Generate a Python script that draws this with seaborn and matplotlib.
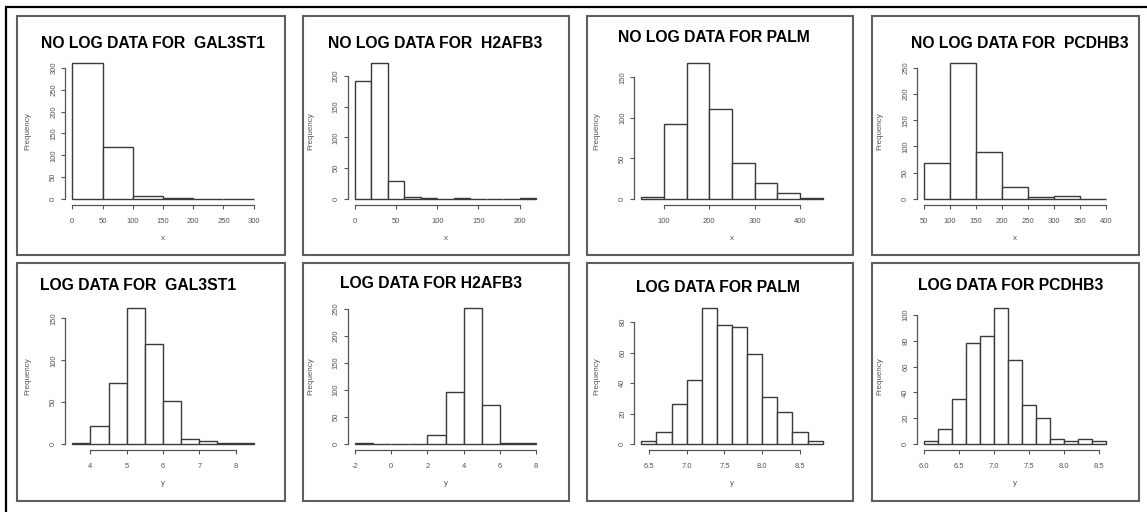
import numpy as np
import pandas as pd
import seaborn as sns
import matplotlib.pyplot as plt
from matplotlib import font_manager
from matplotlib.patches import Rectangle

# ---------------------------------------------------------------------------
# Histogram data: bin edges and counts per gene, raw and log-transformed
# ---------------------------------------------------------------------------
raw_titles = ["NO LOG DATA FOR  GAL3ST1", "NO LOG DATA FOR  H2AFB3",
              "NO LOG DATA FOR PALM", "NO LOG DATA FOR  PCDHB3"]
log_titles = ["LOG DATA FOR  GAL3ST1", "LOG DATA FOR H2AFB3",
              "LOG DATA FOR PALM", "LOG DATA FOR PCDHB3"]

gal3st1_raw_breaks = [0, 50, 100, 150, 200, 250, 300]
gal3st1_raw_counts = [310, 119, 8, 2, 1, 1]
h2afb3_raw_breaks = [0, 20, 40, 60, 80, 100, 120, 140, 160, 180, 200, 220]
h2afb3_raw_counts = [191, 220, 30, 3, 1, 0, 1, 0, 0, 0, 1]
palm_raw_breaks = [50, 100, 150, 200, 250, 300, 350, 400, 450]
palm_raw_counts = [2, 92, 167, 111, 44, 20, 7, 1]
pcdhb3_raw_breaks = [50, 100, 150, 200, 250, 300, 350, 400]
pcdhb3_raw_counts = [68, 258, 90, 23, 3, 6, 1]

gal3st1_log_breaks = [3.5, 4.0, 4.5, 5.0, 5.5, 6.0, 6.5, 7.0, 7.5, 8.0, 8.5]
gal3st1_log_counts = [1, 22, 73, 162, 119, 52, 6, 4, 1, 1]
h2afb3_log_breaks = [-2, -1, 0, 1, 2, 3, 4, 5, 6, 7, 8]
h2afb3_log_counts = [2, 0, 0, 1, 17, 97, 251, 72, 2, 2]
palm_log_breaks = [6.4, 6.6, 6.8, 7.0, 7.2, 7.4, 7.6, 7.8, 8.0, 8.2, 8.4, 8.6, 8.8]
palm_log_counts = [2, 8, 26, 42, 89, 78, 77, 59, 31, 21, 8, 2]
pcdhb3_log_breaks = [6.0, 6.2, 6.4, 6.6, 6.8, 7.0, 7.2, 7.4, 7.6, 7.8, 8.0, 8.2, 8.4, 8.6]
pcdhb3_log_counts = [2, 12, 35, 78, 84, 105, 65, 30, 20, 4, 2, 4, 2]

# Axis ticks (values and labels)
gal3st1_raw_xticks = [0, 50, 100, 150, 200, 250, 300]
gal3st1_raw_yticks = [0, 50, 100, 150, 200, 250, 300]
h2afb3_raw_xticks = [0, 50, 100, 150, 200]
h2afb3_raw_yticks = [0, 50, 100, 150, 200]
palm_raw_xticks = [100, 200, 300, 400]
palm_raw_yticks = [0, 50, 100, 150]
pcdhb3_raw_xticks = [50, 100, 150, 200, 250, 300, 350, 400]
pcdhb3_raw_yticks = [0, 50, 100, 150, 200, 250]

gal3st1_log_xticks = [4, 5, 6, 7, 8]
gal3st1_log_yticks = [0, 50, 100, 150]
h2afb3_log_xticks = [-2, 0, 2, 4, 6, 8]
h2afb3_log_yticks = [0, 50, 100, 150, 200, 250]
palm_log_xticks = [6.5, 7.0, 7.5, 8.0, 8.5]
palm_log_xlabels = ["6.5", "7.0", "7.5", "8.0", "8.5"]
palm_log_yticks = [0, 20, 40, 60, 80]
pcdhb3_log_xticks = [6.0, 6.5, 7.0, 7.5, 8.0, 8.5]
pcdhb3_log_xlabels = ["6.0", "6.5", "7.0", "7.5", "8.0", "8.5"]
pcdhb3_log_yticks = [0, 20, 40, 60, 80, 100]

panels = [
    # row 0: raw values, x axis named "x"
    dict(title=raw_titles[0], breaks=gal3st1_raw_breaks, counts=gal3st1_raw_counts,
         xticks=gal3st1_raw_xticks, xlabels=None, yticks=gal3st1_raw_yticks, var="x"),
    dict(title=raw_titles[1], breaks=h2afb3_raw_breaks, counts=h2afb3_raw_counts,
         xticks=h2afb3_raw_xticks, xlabels=None, yticks=h2afb3_raw_yticks, var="x"),
    dict(title=raw_titles[2], breaks=palm_raw_breaks, counts=palm_raw_counts,
         xticks=palm_raw_xticks, xlabels=None, yticks=palm_raw_yticks, var="x"),
    dict(title=raw_titles[3], breaks=pcdhb3_raw_breaks, counts=pcdhb3_raw_counts,
         xticks=pcdhb3_raw_xticks, xlabels=None, yticks=pcdhb3_raw_yticks, var="x"),
    # row 1: log values, x axis named "y"
    dict(title=log_titles[0], breaks=gal3st1_log_breaks, counts=gal3st1_log_counts,
         xticks=gal3st1_log_xticks, xlabels=None, yticks=gal3st1_log_yticks, var="y"),
    dict(title=log_titles[1], breaks=h2afb3_log_breaks, counts=h2afb3_log_counts,
         xticks=h2afb3_log_xticks, xlabels=None, yticks=h2afb3_log_yticks, var="y"),
    dict(title=log_titles[2], breaks=palm_log_breaks, counts=palm_log_counts,
         xticks=palm_log_xticks, xlabels=palm_log_xlabels, yticks=palm_log_yticks, var="y"),
    dict(title=log_titles[3], breaks=pcdhb3_log_breaks, counts=pcdhb3_log_counts,
         xticks=pcdhb3_log_xticks, xlabels=pcdhb3_log_xlabels, yticks=pcdhb3_log_yticks, var="y"),
]

# ---------------------------------------------------------------------------
# Styling
# ---------------------------------------------------------------------------
sns.set_theme(style="white")
plt.rcParams["font.family"] = ["Liberation Sans", "DejaVu Sans"]

installed = {f.name for f in font_manager.fontManager.ttflist}
if "Liberation Sans Narrow" in installed:
    title_family, title_size = ["Liberation Sans Narrow", "Liberation Sans"], 13.7
else:
    title_family, title_size = ["Liberation Sans", "DejaVu Sans"], 11.3

W, H = 1147, 512
fig = plt.figure(figsize=(W / 100, H / 100), dpi=100)
fig.patch.set_facecolor("white")

# layout in pixels
panel_left = [17, 303, 587, 872]
panel_right = [285, 569, 853, 1139]
panel_top = [16, 263]
panel_bottom = [255, 501]
axes_left = [65, 347.5, 634, 917]
axes_width = 196
axes_top = [58, 303]
axes_height = 146.5
title_x = [[153, 435.5, 713.5, 1020], [138, 431.5, 718, 1010.5]]
title_y = [[43, 43, 38, 43], [285, 284, 288, 286]]

ink = "#3a3a3a"
tick_ink = "#555555"

# outer frame (top and left edges fall inside the canvas)
fig.patches.append(Rectangle((6 / W, -0.1), 1.2, 1 - 7 / H + 0.1,
                             transform=fig.transFigure, fill=False,
                             edgecolor="black", linewidth=1.6))

for i, p in enumerate(panels):
    r, c = divmod(i, 4)

    # panel frame
    x0, x1 = panel_left[c], panel_right[c]
    y0, y1 = panel_top[r], panel_bottom[r]
    fig.patches.append(Rectangle((x0 / W, 1 - y1 / H), (x1 - x0) / W, (y1 - y0) / H,
                                 transform=fig.transFigure, fill=False,
                                 edgecolor="#5e5e5e", linewidth=1.5))

    ax = fig.add_axes([axes_left[c] / W, 1 - (axes_top[r] + axes_height) / H,
                       axes_width / W, axes_height / H])
    ax.set_facecolor("none")

    breaks = [float(b) for b in p["breaks"]]
    counts = [float(n) for n in p["counts"]]
    mids = [(a + b) / 2 for a, b in zip(breaks[:-1], breaks[1:])]
    df = pd.DataFrame({"value": mids, "count": counts})

    sns.histplot(data=df, x="value", weights="count", bins=breaks, ax=ax,
                 stat="count", color="white", edgecolor=ink, linewidth=1.0,
                 alpha=1.0)

    # R-style 4% padding around the data range
    span = breaks[-1] - breaks[0]
    ymax = max(counts)
    ax.set_xlim(breaks[0] - 0.04 * span, breaks[-1] + 0.04 * span)
    ax.set_ylim(-0.04 * ymax, 1.04 * ymax)

    ax.set_xticks(p["xticks"])
    if p["xlabels"] is not None:
        ax.set_xticklabels(p["xlabels"])
    else:
        ax.set_xticklabels([str(v) for v in p["xticks"]])
    ax.set_yticks(p["yticks"])
    ax.set_yticklabels([str(v) for v in p["yticks"]])

    for side in ("top", "right"):
        ax.spines[side].set_visible(False)
    ax.spines["left"].set_bounds(p["yticks"][0], p["yticks"][-1])
    ax.spines["bottom"].set_bounds(p["xticks"][0], p["xticks"][-1])
    for side in ("left", "bottom"):
        ax.spines[side].set_color(tick_ink)
        ax.spines[side].set_linewidth(0.9)

    ax.tick_params(axis="both", which="major", direction="out", length=2.6,
                   width=0.8, color=tick_ink, labelsize=5.5, labelcolor=tick_ink,
                   left=True, bottom=True)
    ax.tick_params(axis="x", pad=7.0)
    ax.tick_params(axis="y", pad=3.0, labelrotation=90)
    for lab in ax.get_yticklabels():
        lab.set_va("center")

    ax.set_xlabel(p["var"], fontsize=5.8, color=tick_ink, va="center")
    ax.xaxis.set_label_coords(0.5, -34 / axes_height)
    ax.set_ylabel("Frequency", fontsize=5.8, color=tick_ink, va="center")
    ax.yaxis.set_label_coords(-37 / axes_width, 0.5)

    fig.text(title_x[r][c] / W, 1 - title_y[r][c] / H, p["title"],
             ha="center", va="center", fontsize=title_size, fontweight="bold",
             family=title_family, color="black")

fig.savefig("out.png", dpi=100, facecolor="white")
